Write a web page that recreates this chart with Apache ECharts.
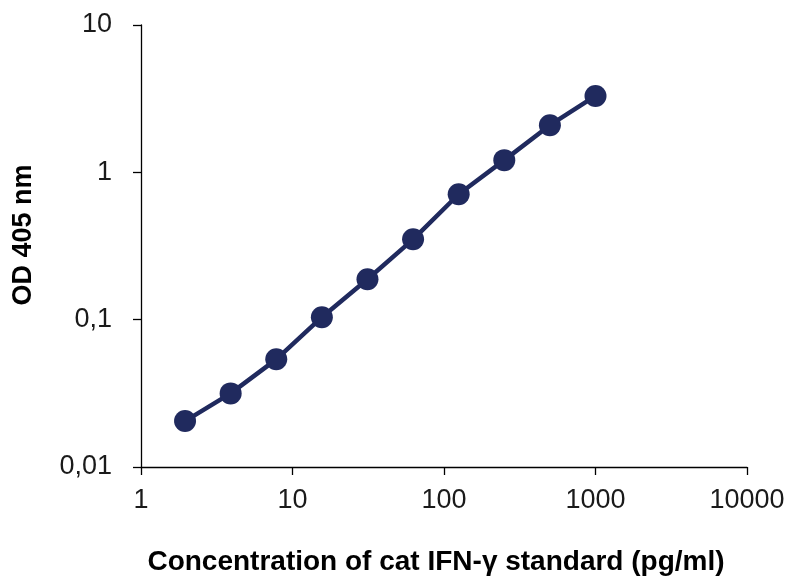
<!DOCTYPE html>
<html><head><meta charset="utf-8">
<script src="https://cdn.jsdelivr.net/npm/echarts@6/dist/echarts.min.js"></script>
<style>html,body{margin:0;padding:0;background:#fff}#c{width:792px;height:580px}</style>
</head><body><div id="c"></div>
<script>
const concentrations = [1.953125, 3.90625, 7.8125, 15.625, 31.25, 62.5, 125, 250, 500, 1000];
const od405 = [0.0205, 0.0316, 0.0538, 0.104, 0.188, 0.351, 0.71, 1.21, 2.09, 3.30];
const xTitle = 'Concentration of cat IFN-γ standard (pg/ml)';
const yTitle = 'OD 405 nm';

const chart = echarts.init(document.getElementById('c'), null, {renderer: 'canvas'});
const fmt = v => String(+v.toPrecision(6)).replace('.', ',');
const labelStyle = {fontFamily: 'Liberation Sans', fontSize: 27, color: '#1a1a1a'};
chart.setOption({
  animation: false,
  grid: {left: 141, right: 45, top: 25, bottom: 113, outerBoundsMode: 'none'},
  xAxis: {
    type: 'log', logBase: 10, min: 1, max: 10000,
    axisLine: {lineStyle: {color: '#000', width: 1.3}},
    axisTick: {show: true, length: 8, lineStyle: {color: '#000', width: 1.3}},
    minorTick: {show: false},
    splitLine: {show: false},
    axisLabel: Object.assign({margin: 20, formatter: fmt}, labelStyle)
  },
  yAxis: {
    type: 'log', logBase: 10, min: 0.01, max: 10,
    axisLine: {show: true, lineStyle: {color: '#000', width: 1.3}},
    axisTick: {show: true, length: 8, lineStyle: {color: '#000', width: 1.3}},
    splitLine: {show: false},
    axisLabel: Object.assign({margin: 29, padding: [4, 0, 0, 0], formatter: fmt}, labelStyle)
  },
  graphic: [
    {type: 'text', x: 436, y: 562, style: {text: xTitle, fontFamily: 'Liberation Sans', fontWeight: 'bold', fontSize: 28, fill: '#000', align: 'center', verticalAlign: 'middle'}},
    {type: 'text', x: 24, y: 235, rotation: Math.PI / 2, style: {text: yTitle, fontFamily: 'Liberation Sans', fontWeight: 'bold', fontSize: 27, fill: '#000', align: 'center', verticalAlign: 'middle'}}
  ],
  series: [{
    type: 'line',
    data: concentrations.map((c, i) => [c, od405[i]]),
    symbol: 'circle', symbolSize: 22,
    lineStyle: {color: '#202a5e', width: 4.5},
    itemStyle: {color: '#202a5e'}
  }]
});
</script></body></html>
